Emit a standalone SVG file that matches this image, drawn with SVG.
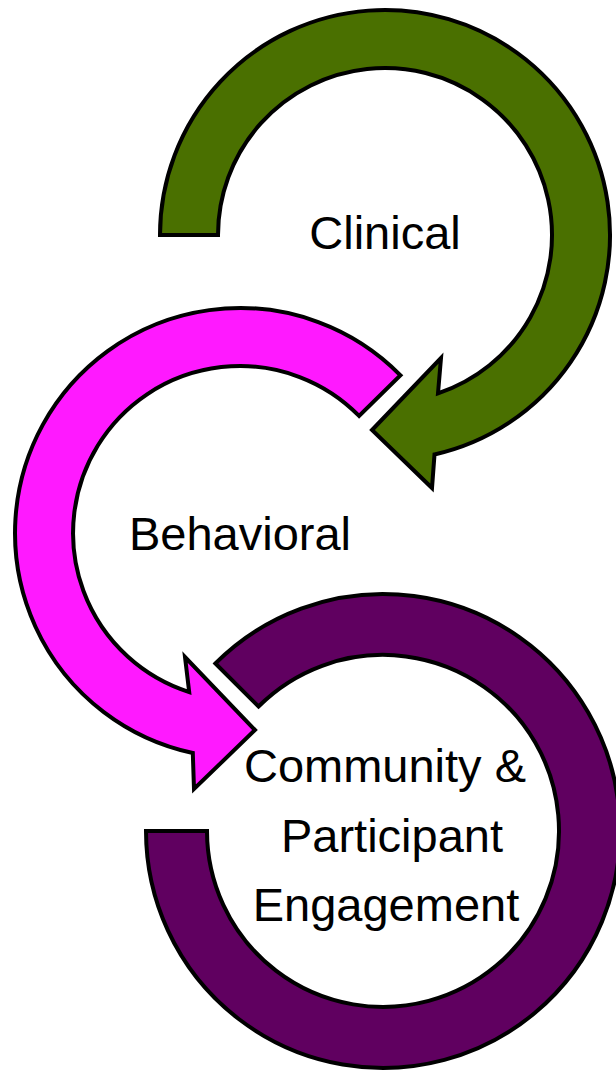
<svg xmlns="http://www.w3.org/2000/svg" width="616" height="1071" viewBox="0 0 616 1071">
  <style>
    .arc { stroke: #000; stroke-width: 4; stroke-linejoin: miter; }
    .lbl { font-family: "Liberation Sans", Arial, sans-serif; font-size: 47px; fill: #000; text-anchor: middle; }
  </style>
  <rect width="616" height="1071" fill="#fff"/>
  <g id="clinical">
    <path class="arc" fill="#4A7000" d="M 160,235 A 225 225 0 1 1 434.5,454.5 L 432,488 L 372,430 L 441,358 L 438,393.4 A 167 167 0 1 0 218,235 Z"/>
    <text class="lbl" x="385" y="249">Clinical</text>
  </g>
  <g id="behavioral">
    <path class="arc" fill="#FF19FF" d="M 400.5,375.3 A 225 225 0 1 0 192.8,753 L 194,789 L 255,730 L 185,657 L 189.2,692.1 A 167 167 0 1 1 359.1,415.9 Z"/>
    <text class="lbl" x="240" y="550">Behavioral</text>
  </g>
  <g id="community">
    <path class="arc" fill="#600060" d="M 215.4,663.4 A 237 237 0 1 1 146,831 L 207,831 A 176 176 0 1 0 258.5,706.5 Z"/>
    <text class="lbl" x="385" y="782">Community &amp;</text>
    <text class="lbl" x="392" y="852">Participant</text>
    <text class="lbl" x="386" y="921">Engagement</text>
  </g>
  <g id="connectors"></g>
</svg>
